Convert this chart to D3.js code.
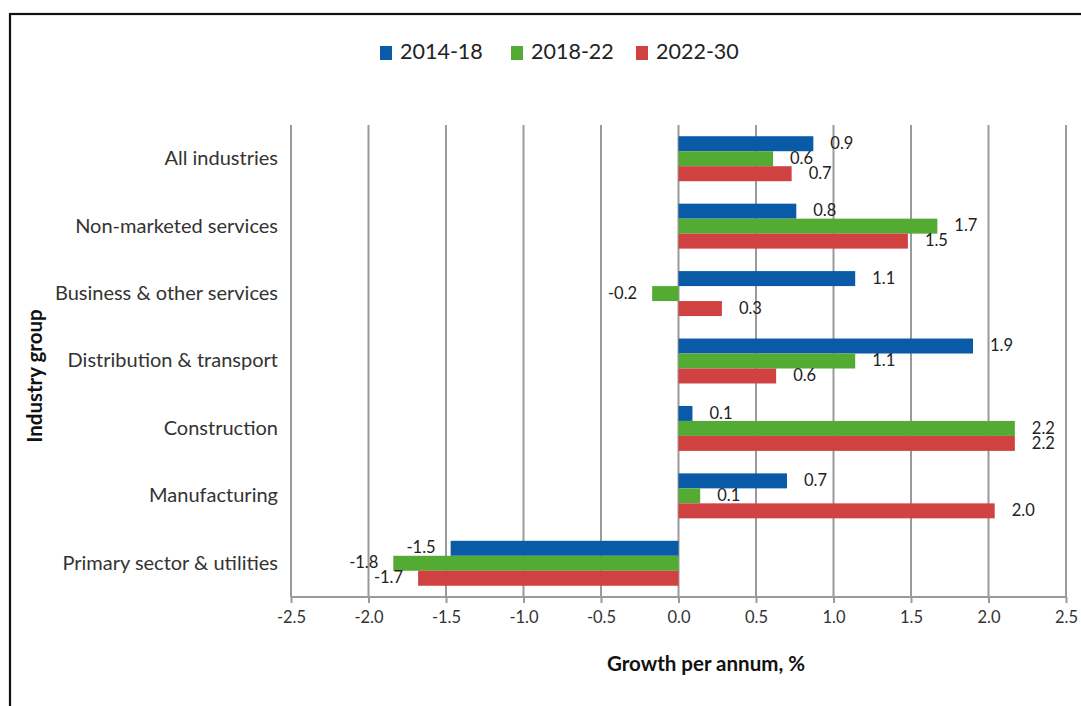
<!DOCTYPE html>
<html>
<head>
<meta charset="utf-8">
<script src="https://cdn.jsdelivr.net/npm/d3@7"></script>
<style>
  html, body { margin: 0; padding: 0; background: #fff; }
  svg { display: block; }
  text { font-family: Lato, "Open Sans", sans-serif; }
</style>
</head>
<body>
<svg id="chart" width="1081" height="706"></svg>
<script>
const categories = ["All industries", "Non-marketed services", "Business & other services",
  "Distribution & transport", "Construction", "Manufacturing", "Primary sector & utilities"];
const seriesNames = ["2014-18", "2018-22", "2022-30"];
const values2014_18 = [0.87, 0.76, 1.14, 1.90, 0.09, 0.70, -1.47];
const values2018_22 = [0.61, 1.67, -0.17, 1.14, 2.17, 0.14, -1.84];
const values2022_30 = [0.73, 1.48, 0.28, 0.63, 2.17, 2.04, -1.68];
const xTicks = [-2.5, -2.0, -1.5, -1.0, -0.5, 0.0, 0.5, 1.0, 1.5, 2.0, 2.5];
const colors = ["#0a5ba7", "#54ab34", "#d04242"];

const seriesValues = [values2014_18, values2018_22, values2022_30];
const svg = d3.select("#chart");
const fmt = v => d3.format(".1f")(v).replace("\u2212", "-");

// frame
svg.append("rect").attr("x", 10).attr("y", 14).attr("width", 1100).attr("height", 720)
  .attr("fill", "none").attr("stroke", "#111").attr("stroke-width", 2.2);

const pLeft = 291, pRight = 1066, pTop = 125, pBottom = 597;
const x = d3.scaleLinear().domain([-2.5, 2.5]).range([pLeft, pRight]);
const y = d3.scaleBand().domain(categories).range([pTop, pBottom]);
const inner = d3.scaleBand().domain(seriesNames).range([0, y.bandwidth()]).paddingInner(0).paddingOuter(0.75);

// gridlines
svg.append("g").selectAll("line").data(xTicks).join("line")
  .attr("x1", d => x(d)).attr("x2", d => x(d))
  .attr("y1", pTop).attr("y2", pBottom)
  .attr("stroke", "#9a9a9a").attr("stroke-width", 2);

// x axis
const xAxis = d3.axisBottom(x).tickValues(xTicks).tickFormat(fmt).tickSize(6).tickPadding(8);
const gx = svg.append("g").attr("transform", `translate(0,${pBottom})`).call(xAxis);
gx.select(".domain").attr("stroke", "#9a9a9a").attr("stroke-width", 2).attr("d", `M${pLeft},0H${pRight}`);
gx.selectAll(".tick line").attr("stroke", "#9a9a9a").attr("stroke-width", 2);
gx.selectAll(".tick text").attr("fill", "#333").style("font-size", "16.5px")
  .style("font-family", "Lato, 'Open Sans', sans-serif");

// y axis labels
const yAxis = d3.axisLeft(y).tickSize(0).tickPadding(13);
const gy = svg.append("g").attr("transform", `translate(${pLeft},0)`).call(yAxis);
gy.select(".domain").remove();
gy.selectAll(".tick text").attr("fill", "#333").style("font-size", "20px")
  .style("font-family", "Lato, 'Open Sans', sans-serif");

// bars
const barData = [];
categories.forEach((c, i) => {
  seriesNames.forEach((s, j) => {
    barData.push({ cat: c, series: s, value: seriesValues[j][i], color: colors[j] });
  });
});

svg.append("g").selectAll("rect").data(barData).join("rect")
  .attr("x", d => x(Math.min(0, d.value)))
  .attr("width", d => Math.abs(x(d.value) - x(0)))
  .attr("y", d => y(d.cat) + inner(d.series))
  .attr("height", inner.bandwidth())
  .attr("fill", d => d.color);

// data labels
svg.append("g").selectAll("text").data(barData).join("text")
  .attr("x", d => d.value >= 0 ? x(d.value) + 17 : x(d.value) - 15)
  .attr("y", d => y(d.cat) + inner(d.series) + inner.bandwidth() / 2 + 1)
  .attr("text-anchor", d => d.value >= 0 ? "start" : "end")
  .attr("dominant-baseline", "middle")
  .attr("fill", "#222").style("font-size", "16.5px")
  .text(d => fmt(d.value));

// axis titles
svg.append("text").attr("x", 706).attr("y", 671).attr("text-anchor", "middle")
  .style("font-size", "20.5px").style("font-weight", "bold").attr("fill", "#111")
  .text("Growth per annum, %");
svg.append("text").attr("transform", "translate(42,376) rotate(-90)").attr("text-anchor", "middle")
  .style("font-size", "20.5px").style("font-weight", "bold").attr("fill", "#111")
  .text("Industry group");

// legend
const legendItems = [
  { name: seriesNames[0], color: colors[0], x: 380 },
  { name: seriesNames[1], color: colors[1], x: 511 },
  { name: seriesNames[2], color: colors[2], x: 636 }
];
const lg = svg.append("g");
legendItems.forEach(it => {
  lg.append("rect").attr("x", it.x).attr("y", 46).attr("width", 12).attr("height", 14).attr("fill", it.color);
  lg.append("text").attr("x", it.x + 20).attr("y", 54).attr("dominant-baseline", "middle")
    .style("font-size", "21.5px").attr("fill", "#222").text(it.name);
});
</script>
</body>
</html>
